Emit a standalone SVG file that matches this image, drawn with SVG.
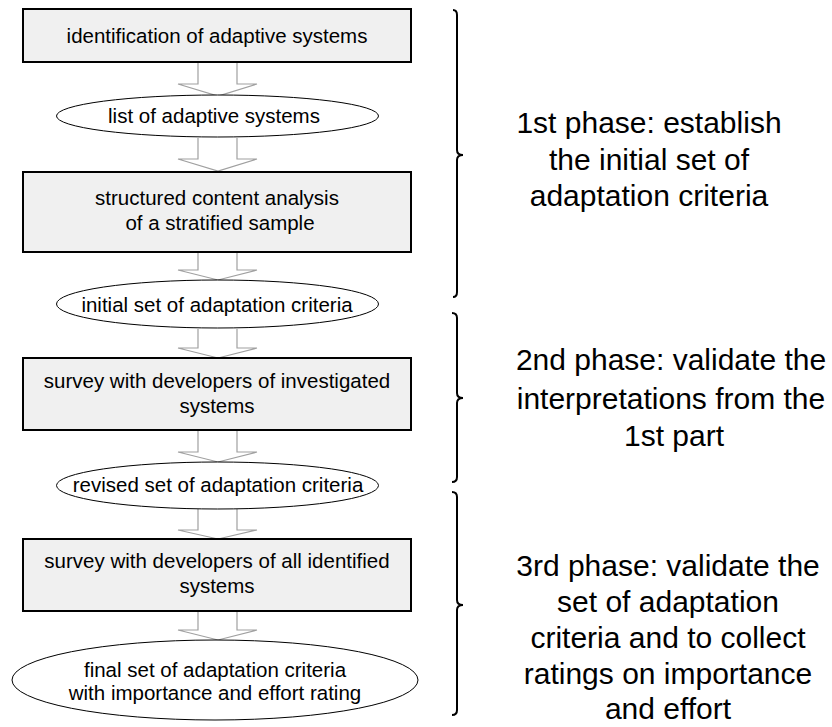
<svg xmlns="http://www.w3.org/2000/svg" width="832" height="727" viewBox="0 0 832 727">
<style>
.box{fill:#f0f0f0;stroke:#000;stroke-width:2}
.ell{fill:#fff;stroke:#000;stroke-width:1}
.arr{fill:#fff;stroke:#a0a0a0;stroke-width:1.2}
.brace{fill:none;stroke:#000;stroke-width:2}
text{font-family:"Liberation Sans",Arial,sans-serif;fill:#000;text-anchor:middle}
.t{font-size:20.5px}
.p{font-size:30px}
</style>
<rect width="832" height="727" fill="#fff"/>
<g id="connectors">
<path class="arr" d="M198,62 V84 H178 L218,96 L257,84 H237 V62"/>
<path class="arr" d="M198,138 V159 H178 L218,171 L257,159 H237 V138"/>
<path class="arr" d="M198,252 V270 H178 L218,280 L257,270 H237 V252"/>
<path class="arr" d="M198,329 V348 H178 L218,358 L257,348 H237 V329"/>
<path class="arr" d="M198,430 V452 H178 L218,462 L257,452 H237 V430"/>
<path class="arr" d="M198,509 V530 H178 L218,539 L257,530 H237 V509"/>
<path class="arr" d="M198,611 V630 H178 L218,640 L257,630 H237 V611"/>
</g>
<g id="n1"><rect class="box" x="23" y="9" width="388" height="53"/><text class="t" x="217" y="43">identification of adaptive systems</text></g>
<g id="n2"><ellipse class="ell" cx="217.5" cy="116" rx="161" ry="21"/><text class="t" x="214" y="123">list of adaptive systems</text></g>
<g id="n3"><rect class="box" x="23" y="172" width="388" height="80"/><text class="t" x="217" y="205">structured content analysis</text><text class="t" x="220" y="230">of a stratified sample</text></g>
<g id="n4"><ellipse class="ell" cx="217.5" cy="304" rx="161" ry="24"/><text class="t" x="217" y="312">initial set of adaptation criteria</text></g>
<g id="n5"><rect class="box" x="23" y="358" width="388" height="72"/><text class="t" x="217" y="388">survey with developers of investigated</text><text class="t" x="217" y="413">systems</text></g>
<g id="n6"><ellipse class="ell" cx="217.5" cy="485.5" rx="161" ry="23.5"/><text class="t" x="218" y="492">revised set of adaptation criteria</text></g>
<g id="n7"><rect class="box" x="23" y="539" width="388" height="72"/><text class="t" x="217" y="568">survey with developers of all identified</text><text class="t" x="217" y="593">systems</text></g>
<g id="n8"><ellipse class="ell" cx="215" cy="680" rx="203" ry="40"/><text class="t" x="215" y="677">final set of adaptation criteria</text><text class="t" x="215" y="700">with importance and effort rating</text></g>
<g id="phase1">
<path class="brace" d="M453,10 Q457,10 457,15 V150 Q457,155 463,155 Q457,155 457,160 V292 Q457,297 453,297"/>
<text class="p" x="649" y="133">1st phase: establish</text><text class="p" x="649" y="170">the initial set of</text><text class="p" x="649" y="206">adaptation criteria</text>
</g>
<g id="phase2">
<path class="brace" d="M452,313 Q457,313 457,318 V393 Q457,398 463,398 Q457,398 457,403 V477 Q457,482 452,482"/>
<text class="p" x="671" y="370">2nd phase: validate the</text><text class="p" x="671" y="409">interpretations from the</text><text class="p" x="674" y="446">1st part</text>
</g>
<g id="phase3">
<path class="brace" d="M452,492 Q457,492 457,497 V600 Q457,605 463,605 Q457,605 457,610 V710 Q457,715 452,715"/>
<text class="p" x="668" y="576">3rd phase: validate the</text><text class="p" x="668" y="612">set of adaptation</text><text class="p" x="668" y="648">criteria and to collect</text><text class="p" x="668" y="684">ratings on importance</text><text class="p" x="668" y="719">and effort</text>
</g>
</svg>
